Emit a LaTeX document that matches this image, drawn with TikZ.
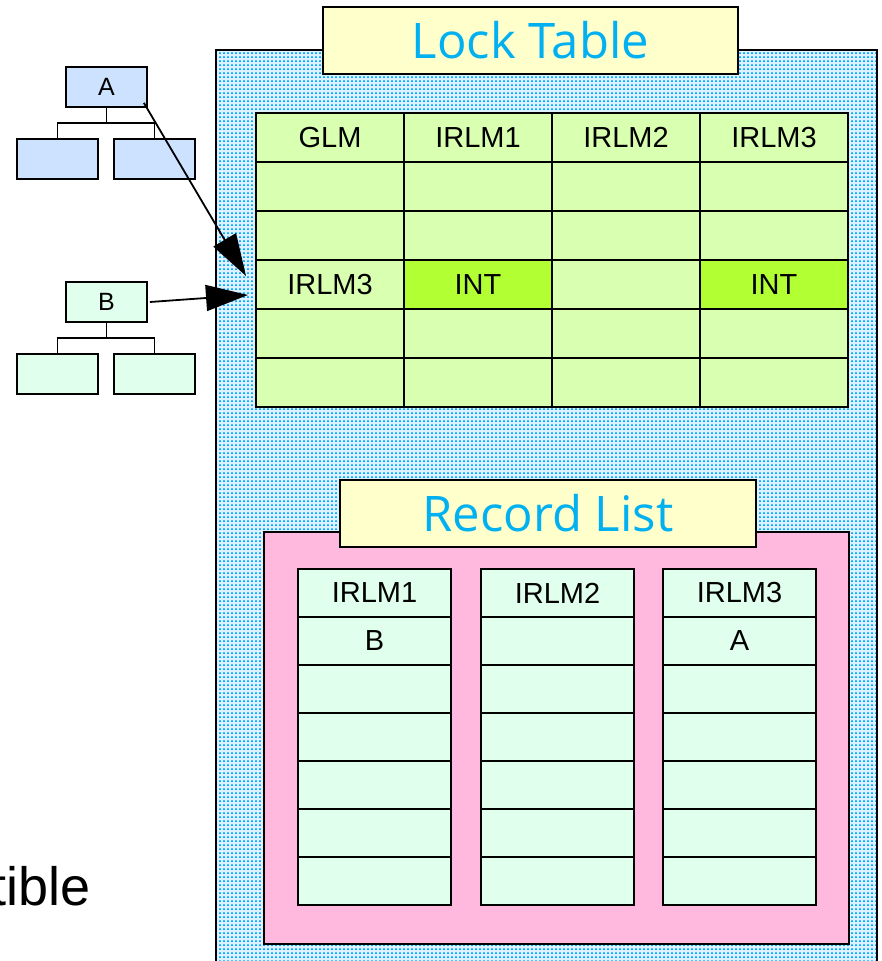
\documentclass[tikz,border=0pt]{standalone}
\usepackage{fontspec}
\setmainfont{Liberation Sans}
\newfontfamily\titlefont{Open Sans}
\usetikzlibrary{arrows.meta, positioning, patterns}
\definecolor{panelblue}{RGB}{222,241,255}
\definecolor{dotblue}{RGB}{0,168,255}
\definecolor{titlefill}{RGB}{255,255,204}
\definecolor{titleink}{RGB}{0,176,240}
\definecolor{lockgreen}{RGB}{217,255,176}
\definecolor{intgreen}{RGB}{178,255,51}
\definecolor{recmint}{RGB}{224,255,236}
\definecolor{recpink}{RGB}{255,185,222}
\definecolor{treeblue}{RGB}{204,226,255}
\pgfdeclarepatternformonly{bluedots}{\pgfpointorigin}{\pgfpoint{4.3pt}{4.3pt}}{\pgfpoint{4.3pt}{4.3pt}}{%
  \pgfpathrectangle{\pgfpointorigin}{\pgfpoint{2.1pt}{1.8pt}}\pgfusepath{fill}}
\tikzset{
  panel/.style={
    rectangle,
    draw=black,
    line width=1.6pt,
    preaction={fill=panelblue},
    pattern=bluedots,
    pattern color=dotblue,
    anchor=north west,
    inner sep=0pt
  },
  titlebox/.style={
    rectangle,
    draw=black,
    line width=2pt,
    fill=titlefill,
    minimum width=415pt,
    minimum height=67pt,
    text=titleink,
    font=\titlefont\fontsize{49}{52}\selectfont
  },
  lockcell/.style={
    rectangle,
    draw=black,
    line width=2pt,
    fill=lockgreen,
    minimum width=148pt,
    minimum height=49pt,
    inner sep=0pt,
    font=\fontsize{29}{31}\selectfont
  },
  reccell/.style={
    rectangle,
    draw=black,
    line width=2pt,
    fill=recmint,
    minimum width=153pt,
    minimum height=48pt,
    inner sep=0pt,
    font=\fontsize{29}{31}\selectfont
  },
  treebox/.style={
    rectangle,
    draw=black,
    line width=1.7pt,
    minimum width=81pt,
    minimum height=40pt,
    inner sep=0pt,
    font=\fontsize{25}{27}\selectfont
  },
  link/.style={
    line width=1.8pt
  },
  arrow/.style={
    -{Triangle[length=42pt, width=26pt]},
    line width=1.8pt
  }
}

\begin{document}
\begin{tikzpicture}[x=1pt, y=1pt]
\path[use as bounding box, clip] (0,0) rectangle (881,-961);

% Lock table panel
\node[panel, minimum width=661pt, minimum height=930pt] (panel) at (215,-49) {};
\node[titlebox] (locktitle) at (530.5,-40) {Lock Table};

\foreach \r in {1,...,6}
  \foreach \c in {1,...,4}
    \node[lockcell] (lt-\r-\c) at ({256+148*(\c-0.5)}, {-113-49*(\r-0.5)}) {};

\node[lockcell, fill=intgreen] (int-a) at (lt-4-2) {INT};
\node[lockcell, fill=intgreen] (int-b) at (lt-4-4) {INT};
\node[font=\fontsize{29}{31}\selectfont] at (lt-1-1) {GLM};
\node[font=\fontsize{29}{31}\selectfont] at (lt-1-2) {IRLM1};
\node[font=\fontsize{29}{31}\selectfont] at (lt-1-3) {IRLM2};
\node[font=\fontsize{29}{31}\selectfont] at (lt-1-4) {IRLM3};
\node[font=\fontsize{29}{31}\selectfont] at (lt-4-1) {IRLM3};

% Record list
\node[rectangle, draw=black, line width=2pt, fill=recpink, anchor=north west,
      minimum width=585pt, minimum height=412pt] (reclist) at (263,-531) {};
\node[titlebox, minimum width=416pt] (rectitle) at (548,-513.5) {Record List};

\foreach \c/\x in {1/298, 2/481, 3/663}
  \foreach \r in {1,...,7}
    \node[reccell] (rl-\c-\r) at ({\x+76.5}, {-569-48*(\r-0.5)}) {};

\node[font=\fontsize{29}{31}\selectfont] at (rl-1-1) {IRLM1};
\node[font=\fontsize{29}{31}\selectfont] at (rl-2-1) {IRLM2};
\node[font=\fontsize{29}{31}\selectfont] at (rl-3-1) {IRLM3};
\node[font=\fontsize{29}{31}\selectfont] at (rl-1-2) {B};
\node[font=\fontsize{29}{31}\selectfont] at (rl-3-2) {A};

% Trees
\node[treebox, fill=treeblue] (A) at (106.5,-87) {A};
\node[treebox, fill=treeblue, below=30pt of A, xshift=-49pt] (a1) {};
\node[treebox, fill=treeblue, below=30pt of A, xshift=48pt] (a2) {};
\draw[link] (A.south) -- ++(0,-15) coordinate (aj);
\draw[link] (a1.north) |- (aj) -| (a2.north);

\node[treebox, fill=recmint] (B) at (106.5,-302) {B};
\node[treebox, fill=recmint, below=30pt of B, xshift=-49pt] (b1) {};
\node[treebox, fill=recmint, below=30pt of B, xshift=48pt] (b2) {};
\draw[link] (B.south) -- ++(0,-15) coordinate (bj);
\draw[link] (b1.north) |- (bj) -| (b2.north);

% Arrows into the lock table
\draw[arrow] ([shift={(-4,5)}]A.south east) -- ([shift={(-9,8.5)}]lt-4-1.west);
\draw[arrow] ([xshift=2pt]B.east) -- ([shift={(-7,-10.5)}]lt-4-1.west);

\node[anchor=base east, font=\fontsize{54}{58}\selectfont] (tible) at (94,-905) {tible};

\end{tikzpicture}
\end{document}
